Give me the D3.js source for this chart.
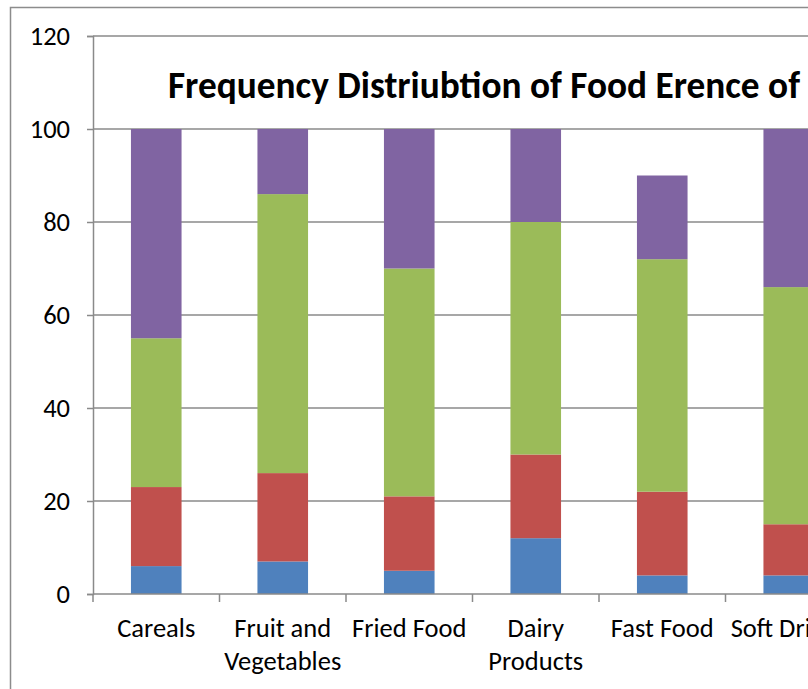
<!DOCTYPE html>
<html>
<head>
<meta charset="utf-8">
<script src="https://cdn.jsdelivr.net/npm/d3@7/dist/d3.min.js"></script>
<style>
  html, body { margin: 0; padding: 0; background: #fff; }
  svg { display: block; }
</style>
</head>
<body>
<svg id="chart" width="808" height="689"></svg>
<script>
// Food categories along the x axis (labels may wrap onto two lines)
const categories = [
  ["Careals"],
  ["Fruit and", "Vegetables"],
  ["Fried Food"],
  ["Dairy", "Products"],
  ["Fast Food"],
  ["Soft Drinks"]
];

// Stacked series, bottom to top
const seriesA = [6, 7, 5, 12, 4, 4];
const seriesB = [17, 19, 16, 18, 18, 11];
const seriesC = [32, 60, 49, 50, 50, 51];
const seriesD = [45, 14, 30, 20, 18, 34];

const yTicks = [0, 20, 40, 60, 80, 100, 120];
const titleText = "Frequency Distriubtion of Food Erence of";

const seriesKeys = ["a", "b", "c", "d"];
const colors = { a: "#4F81BD", b: "#C0504D", c: "#9BBB59", d: "#8064A2" };

const rows = categories.map((c, i) => ({
  name: c.join(" "),
  lines: c,
  a: seriesA[i], b: seriesB[i], c: seriesC[i], d: seriesD[i]
}));

const svg = d3.select("#chart");
const font = "Carlito, Calibri, 'Open Sans', sans-serif";

// outer chart frame
svg.append("rect")
  .attr("x", 10.5).attr("y", 7.5)
  .attr("width", 900).attr("height", 800)
  .attr("fill", "none").attr("stroke", "#8c8c8c").attr("stroke-width", 1.5);

const plotLeft = 93, plotBottom = 594, plotTop = 36;
const step = 126.5;

const x = d3.scaleBand()
  .domain(rows.map(d => d.name))
  .range([plotLeft, plotLeft + step * rows.length])
  .paddingInner(0.6)
  .paddingOuter(0.3);

const y = d3.scaleLinear().domain([0, 120]).range([plotBottom, plotTop]);

// horizontal gridlines
svg.append("g")
  .selectAll("line")
  .data(yTicks.filter(t => t > 0))
  .join("line")
  .attr("x1", plotLeft).attr("x2", 808)
  .attr("y1", d => y(d)).attr("y2", d => y(d))
  .attr("stroke", "#8a8a8a").attr("stroke-width", 1.5);

// stacked bars
const stack = d3.stack().keys(seriesKeys);
const layers = stack(rows);

svg.append("g")
  .selectAll("g")
  .data(layers)
  .join("g")
  .attr("fill", d => colors[d.key])
  .selectAll("rect")
  .data(d => d)
  .join("rect")
  .attr("x", d => x(d.data.name))
  .attr("width", x.bandwidth())
  .attr("y", d => y(d[1]))
  .attr("height", d => y(d[0]) - y(d[1]));

// y axis
const yAxis = svg.append("g")
  .attr("transform", `translate(${plotLeft},0)`)
  .call(d3.axisLeft(y).tickValues(yTicks).tickSize(6).tickPadding(17));
yAxis.select(".domain").attr("stroke", "#8a8a8a").attr("stroke-width", 1.5);
yAxis.selectAll(".tick line").attr("stroke", "#8a8a8a").attr("stroke-width", 1.5);
yAxis.selectAll(".tick text")
  .attr("font-family", font).attr("font-size", 26.5).attr("fill", "#000");

// x axis line with tick marks at category boundaries
svg.append("line")
  .attr("x1", plotLeft).attr("x2", 808)
  .attr("y1", plotBottom).attr("y2", plotBottom)
  .attr("stroke", "#8a8a8a").attr("stroke-width", 1.5);

const boundaries = d3.range(rows.length + 1).map(i => plotLeft + i * step);
svg.append("g")
  .selectAll("line")
  .data(boundaries)
  .join("line")
  .attr("x1", d => d).attr("x2", d => d)
  .attr("y1", plotBottom).attr("y2", plotBottom + 8)
  .attr("stroke", "#8a8a8a").attr("stroke-width", 1.5);

// category labels
const labels = svg.append("g")
  .selectAll("text")
  .data(rows)
  .join("text")
  .attr("x", d => x(d.name) + x.bandwidth() / 2)
  .attr("y", 637)
  .attr("text-anchor", "middle")
  .attr("font-family", font).attr("font-size", 26.5).attr("fill", "#000");
labels.selectAll("tspan")
  .data(d => d.lines.map((l, i) => ({ l, i, cx: x(d.name) + x.bandwidth() / 2 })))
  .join("tspan")
  .attr("x", d => d.cx)
  .attr("dy", d => d.i === 0 ? 0 : 33)
  .text(d => d.l);

// title
svg.append("text")
  .attr("x", 168).attr("y", 98)
  .attr("font-family", font).attr("font-weight", "bold")
  .attr("font-size", 37.3).attr("fill", "#000")
  .text(titleText);
</script>
</body>
</html>
